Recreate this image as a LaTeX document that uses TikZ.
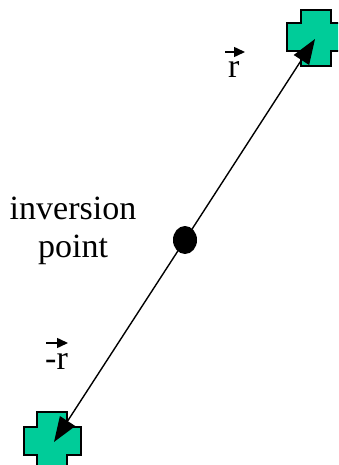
\documentclass[tikz,border=0pt]{standalone}
\usepackage{fontspec}
\setmainfont{Liberation Serif}
\usetikzlibrary{arrows.meta,shapes.geometric}
\definecolor{crossgreen}{RGB}{0,204,153}
\tikzset{
  crossshape/.style={fill=crossgreen, draw=black, line width=1.8pt, line join=miter},
  lbl/.style={inner sep=0pt, font=\fontsize{34}{38}\selectfont},
  bigarrow/.style={line width=1.4pt, -{Triangle[length=25pt,width=18pt]}},
  vecarrow/.style={line width=1.5pt, -{Triangle[length=11pt,width=10pt]}}
}
\begin{document}
\begin{tikzpicture}[x=1pt,y=-1pt]
\clip (0,0) rectangle (338,465);
\useasboundingbox (0,0) rectangle (338,465);
% top cross
\draw[crossshape] (301,10) -- (331,10) -- (331,23) -- (346,23) -- (346,51) -- (331,51)
  -- (331,66) -- (301,66) -- (301,51) -- (287,51) -- (287,23) -- (301,23) -- cycle;
% bottom cross
\draw[crossshape] (37,412) -- (67,412) -- (67,427) -- (81,427) -- (81,455) -- (67,455)
  -- (67,475) -- (37,475) -- (37,455) -- (24,455) -- (24,427) -- (37,427) -- cycle;
% inversion point
\node[ellipse, fill=black, minimum width=24pt, minimum height=28pt, inner sep=0pt] (ip) at (185,240) {};
\coordinate (tipA) at (315,39);
\coordinate (tipB) at (54,442);
\draw[bigarrow] (ip.center) -- (tipA);
\draw[bigarrow] (ip.center) -- (tipB);
% labels
\node[lbl, align=center] (inv) at (73,231) {inversion\\point};
\node[lbl, anchor=base west] (r1) at (228,78) {r};
\coordinate (r1a) at (225,52);
\coordinate (r1b) at (245,52);
\draw[vecarrow] (r1a) -- (r1b);
\node[lbl, anchor=base west] (r2) at (45,369) {-r};
\coordinate (r2a) at (46,343);
\coordinate (r2b) at (68,343);
\draw[vecarrow] (r2a) -- (r2b);
\end{tikzpicture}
\end{document}
